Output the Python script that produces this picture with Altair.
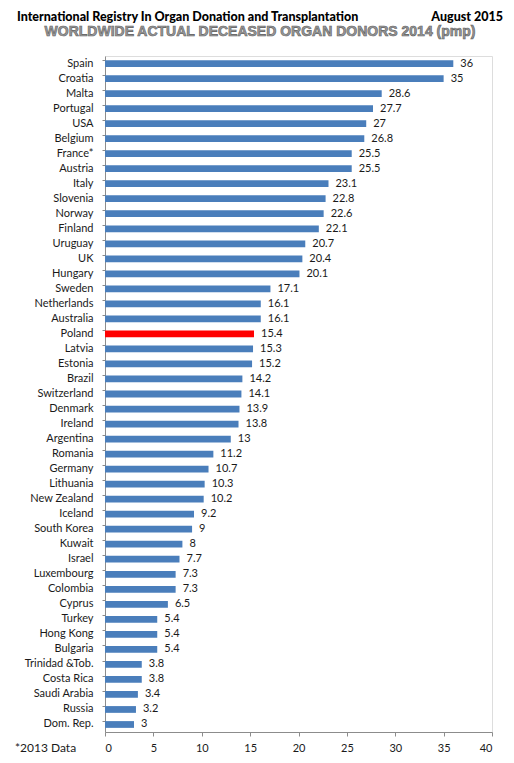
import altair as alt
import pandas as pd

countries = ["Spain", "Croatia", "Malta", "Portugal", "USA", "Belgium", "France*", "Austria",
             "Italy", "Slovenia", "Norway", "Finland", "Uruguay", "UK", "Hungary", "Sweden",
             "Netherlands", "Australia", "Poland", "Latvia", "Estonia", "Brazil", "Switzerland",
             "Denmark", "Ireland", "Argentina", "Romania", "Germany", "Lithuania", "New Zealand",
             "Iceland", "South Korea", "Kuwait", "Israel", "Luxembourg", "Colombia", "Cyprus",
             "Turkey", "Hong Kong", "Bulgaria", "Trinidad &Tob.", "Costa Rica", "Saudi Arabia",
             "Russia", "Dom. Rep."]
values = [36, 35, 28.6, 27.7, 27, 26.8, 25.5, 25.5, 23.1, 22.8, 22.6, 22.1, 20.7, 20.4, 20.1,
          17.1, 16.1, 16.1, 15.4, 15.3, 15.2, 14.2, 14.1, 13.9, 13.8, 13, 11.2, 10.7, 10.3, 10.2,
          9.2, 9, 8, 7.7, 7.3, 7.3, 6.5, 5.4, 5.4, 5.4, 3.8, 3.8, 3.4, 3.2, 3]
highlight = "Poland"
x_ticks = [0, 5, 10, 15, 20, 25, 30, 35, 40]

header_left = "International Registry In Organ Donation and Transplantation"
header_right = "August 2015"
chart_title = "WORLDWIDE ACTUAL DECEASED ORGAN DONORS 2014 (pmp)"
footnote = "*2013 Data"

df = pd.DataFrame({"country": countries, "value": values})
df["hl"] = df["country"] == highlight

FONT = "Lato"

y_enc_main = alt.Y("country:N", sort=None,
                   scale=alt.Scale(paddingInner=0.55, paddingOuter=0.275),
                   axis=alt.Axis(title=None, ticks=False, labelPadding=12, labelFont=FONT,
                                 labelFontSize=11, labelColor="#1a1a1a", domainColor="#8c8c8c",
                                 labelLimit=200, orient="left"))
x_enc = alt.X("value:Q", scale=alt.Scale(domain=[0, 40], nice=False),
              axis=alt.Axis(title=None, values=x_ticks, grid=False, tickSize=4,
                            tickColor="#8c8c8c", domainColor="#8c8c8c", labelPadding=6,
                            labelFont=FONT, labelFontSize=11, labelColor="#1a1a1a"))

bars = alt.Chart(df).mark_bar().encode(
    x=x_enc,
    y=y_enc_main,
    color=alt.Color("hl:N", scale=alt.Scale(domain=[False, True], range=["#4A7EBB", "#FF0000"]),
                    legend=None),
)

labels = alt.Chart(df).mark_text(align="left", baseline="middle", dx=7, font=FONT,
                                 fontSize=11, color="#1a1a1a").encode(
    x=alt.X("value:Q"),
    y=alt.Y("country:N", sort=None,
            axis=alt.Axis(title=None, labels=False, domain=False, ticks=True, tickSize=3,
                          bandPosition=0, tickColor="#8c8c8c", orient="left")),
    text=alt.Text("value:Q"),
)

hdr_l = alt.Chart(pd.DataFrame({"t": [header_left]})).mark_text(
    align="left", baseline="alphabetic", font=FONT, fontSize=12.5, fontWeight=900,
    color="#000000").encode(x=alt.value(-88), y=alt.value(-35), text="t:N")
hdr_r = alt.Chart(pd.DataFrame({"t": [header_right]})).mark_text(
    align="right", baseline="alphabetic", font=FONT, fontSize=12.5, fontWeight=900,
    color="#000000").encode(x=alt.value(398), y=alt.value(-35), text="t:N")
ttl = alt.Chart(pd.DataFrame({"t": [chart_title]})).mark_text(
    align="center", baseline="alphabetic", font="Liberation Sans", fontSize=14,
    fontWeight="bold", color="#9a9a9a", stroke="#5e5e5e", strokeWidth=0.6).encode(
    x=alt.value(155), y=alt.value(-20), text="t:N")
foot = alt.Chart(pd.DataFrame({"t": [footnote]})).mark_text(
    align="left", baseline="middle", font=FONT, fontSize=12, color="#1a1a1a").encode(
    x=alt.value(-90), y=alt.value(692), text="t:N")

chart = alt.layer(bars, labels, hdr_l, hdr_r, ttl, foot).resolve_axis(y="independent").properties(
    width=387, height=676,
    autosize=alt.AutoSizeParams(type="none"),
    padding={"left": 97, "top": 48, "right": 14, "bottom": 28},
).configure_view(stroke=None).configure(background="#ffffff")

chart.save("out.html", embed_options={"renderer": "svg", "actions": False})
